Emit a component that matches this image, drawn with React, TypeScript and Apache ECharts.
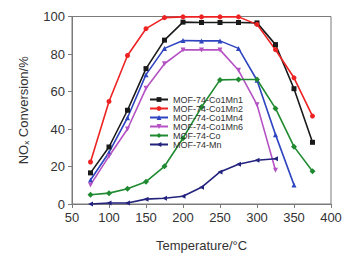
import React, { useEffect, useRef } from "react";
import * as echarts from "echarts";

const temps = [75, 100, 125, 150, 175, 200, 225, 250, 275, 300, 325, 350, 375];
const co1mn1 = [16.6, 30.4, 50, 72.2, 87.4, 97, 96.8, 96.8, 96.8, 96.6, 85, 61.5, 32.9];
const co1mn2 = [22.4, 54.7, 79.2, 93.5, 99.4, 99.8, 99.8, 99.8, 99.8, 95.8, 82.3, 67.3, 46.9];
const co1mn4 = [12.8, 27.5, 46, 69, 83, 87.2, 87, 87, 83, 66, 37, 10.2];
const co1mn6 = [10.2, 25.5, 40, 61.7, 74.8, 82.2, 82.2, 82.2, 71.3, 53, 18];
const co = [4.9, 5.8, 8.1, 11.9, 20.1, 35.1, 51.7, 66.2, 66.4, 66.4, 51, 30.6, 17.5];
const mn = [0, 0.5, 0.5, 2.6, 3.1, 4.1, 8.9, 17.1, 21.2, 23.3, 24.1];

const names = [
  "MOF-74-Co1Mn1",
  "MOF-74-Co1Mn2",
  "MOF-74-Co1Mn4",
  "MOF-74-Co1Mn6",
  "MOF-74-Co",
  "MOF-74-Mn",
];
const colors = ["#1a1a1a", "#ee2222", "#2f45c0", "#b452c4", "#1f8a30", "#23237e"];
const symbols = ["rect", "circle", "triangle", "triangle", "diamond", "triangle"];
const rotations = [0, 0, 0, 180, 0, 90];
const values = [co1mn1, co1mn2, co1mn4, co1mn6, co, mn];

export default function App() {
  const ref = useRef<HTMLDivElement>(null);
  useEffect(() => {
    if (!ref.current) return;
    const chart = echarts.init(ref.current, null, { renderer: "svg" });
    const font = "Liberation Sans, Arial, sans-serif";
    chart.setOption({
      animation: false,
      grid: {
        left: 72,
        top: 16.5,
        width: 259,
        height: 191,
        show: true,
        borderColor: "#7a7a7a",
        borderWidth: 1,
        backgroundColor: "transparent",
      },
      legend: {
        orient: "vertical",
        left: 149,
        top: 95,
        padding: 0,
        itemWidth: 18,
        itemHeight: 6,
        itemGap: 0,
        data: names,
        textStyle: { fontSize: 9, color: "#333", fontFamily: font, lineHeight: 8.5 },
      },
      xAxis: {
        type: "value",
        min: 50,
        max: 400,
        interval: 50,
        name: "Temperature/°C",
        nameLocation: "middle",
        nameGap: 35,
        nameTextStyle: { fontSize: 13, color: "#333", fontFamily: font },
        axisLine: { lineStyle: { color: "#7a7a7a", width: 1 } },
        axisTick: { show: true, length: 4, lineStyle: { color: "#7a7a7a" } },
        axisLabel: { fontSize: 13, color: "#333", fontFamily: font, margin: 7 },
        splitLine: { show: false },
      },
      yAxis: {
        type: "value",
        min: 0,
        max: 100,
        interval: 20,
        name: "{a|NO}{b|x}{a| Conversion/%}",
        nameLocation: "middle",
        nameGap: 42,
        nameTextStyle: {
          fontSize: 13,
          color: "#333",
          fontFamily: font,
          rich: {
            a: { fontSize: 13, color: "#333", fontFamily: font },
            b: { fontSize: 8, color: "#333", fontFamily: font, verticalAlign: "bottom", padding: [6, 0, 0, 0] },
          },
        },
        axisLine: { show: true, lineStyle: { color: "#7a7a7a", width: 1 } },
        axisTick: { show: true, length: 4, lineStyle: { color: "#7a7a7a" } },
        axisLabel: { fontSize: 13, color: "#333", fontFamily: font, margin: 7 },
        splitLine: { show: false },
      },
      series: values.map((vals, i) => ({
        name: names[i],
        type: "line",
        data: vals.map((v, j) => [temps[j], v]),
        symbol: symbols[i],
        symbolSize: i === 4 ? 6 : 5,
        symbolRotate: rotations[i],
        lineStyle: { width: 1.6, color: colors[i] },
        itemStyle: { color: colors[i] },
      })),
    });
    return () => chart.dispose();
  }, []);
  return <div ref={ref} style={{ width: 361, height: 257, position: "absolute", left: 0, top: 0 }} />;
}
